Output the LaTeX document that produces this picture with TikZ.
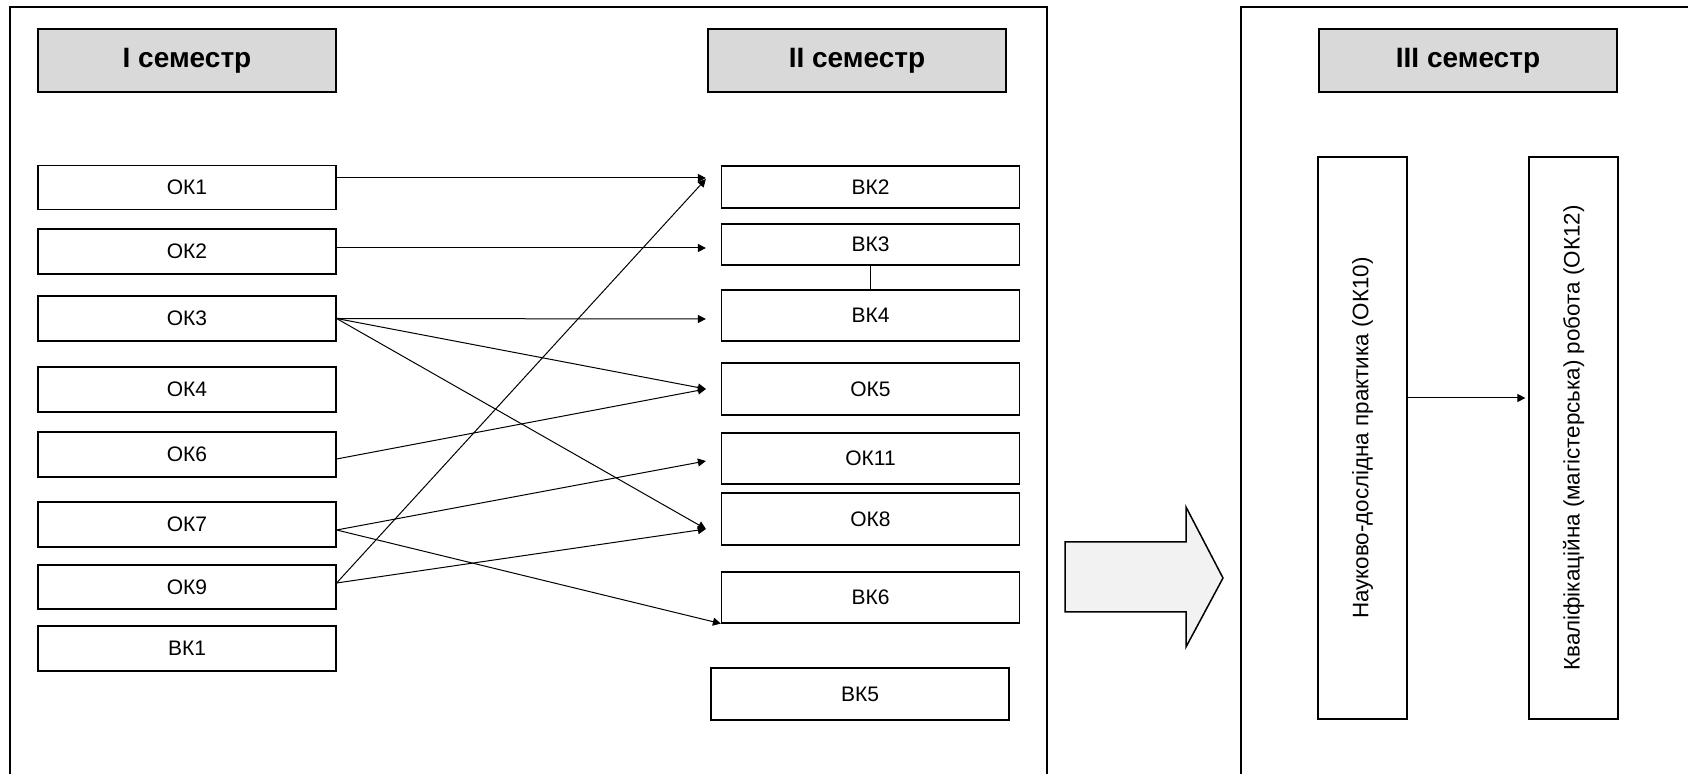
\documentclass[tikz,border=0pt]{standalone}
\usepackage{fontspec}
\setmainfont{Liberation Sans}
\usepackage{graphicx}
\usetikzlibrary{arrows.meta,positioning}
\tikzstyle{arrow} = [line width=0.5pt,-{Triangle[length=4pt,width=4pt]}]
\tikzstyle{box}=[draw, line width=0.6pt, minimum width=149pt, inner sep=0pt, font=\fontsize{10.5}{12}\selectfont]
\tikzstyle{head}=[draw, line width=0.6pt, fill=gray!30, minimum width=149pt, minimum height=31.5pt, font=\bfseries\fontsize{14}{16}\selectfont]
\tikzstyle{tall}=[box, minimum width=44.5pt, minimum height=281pt, font=\fontsize{11.2}{13}\selectfont]
\tikzstyle{frame}=[draw, line width=1pt]

\begin{document}
\begin{tikzpicture}[x=0.5pt, y=-0.5pt]
    \useasboundingbox (0,0) rectangle (1688,774);
    \draw [frame] (10,800) |- (1047,7) -- (1047,800);
    \draw [frame] (1241,800) |- (1720,7);

    \node (s1) [head] at (187,60.5)  {I семестр};
    \node (s2) [head] at (857,60.5)  {II семестр};
    \node (s3) [head] at (1468,60.5) {III семестр};

    % I semester
    \node (ok1) [box, minimum height=22pt] at (187,187.5)                     {ОК1};
    \node (ok2) [box, minimum height=22.5pt, node distance=32pt, below of=ok1]    {ОК2};
    \node (ok3) [box, minimum height=22.5pt, node distance=33.5pt, below of=ok2]  {ОК3};
    \node (ok4) [box, minimum height=22.5pt, node distance=35.5pt, below of=ok3]  {ОК4};
    \node (ok6) [box, minimum height=22.5pt, node distance=32.5pt, below of=ok4]  {ОК6};
    \node (ok7) [box, minimum height=22.5pt, node distance=35pt, below of=ok6]    {ОК7};
    \node (ok9) [box, minimum height=22pt, node distance=31.25pt, below of=ok7]   {ОК9};
    \node (bk1) [box, minimum height=22.5pt, node distance=30.75pt, below of=ok9] {ВК1};

    % II semester
    \node (bk2)  [box, minimum height=21pt] at (870.5,187)                      {ВК2};
    \node (bk3)  [box, minimum height=20.5pt, node distance=28.75pt, below of=bk2] {ВК3};
    \node (bk4)  [box, minimum height=25.5pt, node distance=35.5pt, below of=bk3]  {ВК4};
    \node (ok5)  [box, minimum height=26pt, node distance=36.75pt, below of=bk4]   {ОК5};
    \node (ok11) [box, minimum height=25.5pt, node distance=34.75pt, below of=ok5] {ОК11};
    \node (ok8)  [box, minimum height=26pt, node distance=30.25pt, below of=ok11]  {ОК8};
    \node (bk6)  [box, minimum height=25.5pt, node distance=39.25pt, below of=ok8] {ВК6};
    \node (bk5)  [box, minimum height=26pt] at (860,694)                        {ВК5};
    \draw [line width=0.5pt] (bk3) -- (bk4);

    \draw [arrow] ([yshift=4.75pt]ok1.east) -- ([xshift=-7.5pt,yshift=4.5pt]bk2.west);
    \draw [arrow] ([yshift=1.75pt]ok2.east) -- ([xshift=-7.5pt,yshift=-1.75pt]bk3.west);
    \draw [arrow] (ok3.east) -- ([xshift=-7.5pt,yshift=-1.75pt]bk4.west);
    \draw [arrow] (ok3.east) -- ([xshift=-7.5pt]ok5.west);
    \draw [arrow] (ok3.east) -- ([xshift=-7.5pt,yshift=-5pt]ok8.west);
    \draw [arrow] ([yshift=-2.25pt]ok6.east) -- ([xshift=-7.5pt]ok5.west);
    \draw [arrow] ([yshift=-2.75pt]ok7.east) -- ([xshift=-7.5pt,yshift=-1.25pt]ok11.west);
    \draw [arrow] ([yshift=-2.75pt]ok7.east) -- (bk6.south west);
    \draw [arrow] ([yshift=2pt]ok9.east) -- ([xshift=-7.5pt,yshift=-5pt]ok8.west);
    \draw [arrow] ([yshift=2pt]ok9.east) -- ([xshift=-7.5pt,yshift=4pt]bk2.west);

    % transition to III semester
    \draw [line width=0.75pt, fill=gray!10] (1065,542) -- (1186,542) -- (1186,507) -- (1223,578)
        -- (1186,647) -- (1186,612) -- (1065,612) -- cycle;

    % III semester
    \node (ok10) [tall] at (1362.5,438) {\rotatebox{90}{Науково-дослідна практика (ОК10)}};
    \node (ok12) [tall] at (1573.5,438) {\rotatebox{90}{Кваліфікаційна (магістерська) робота (ОК12)}};
    \draw [arrow] ([yshift=20pt]ok10.east) -- ([xshift=-1.5pt,yshift=20pt]ok12.west);
\end{tikzpicture}
\end{document}
